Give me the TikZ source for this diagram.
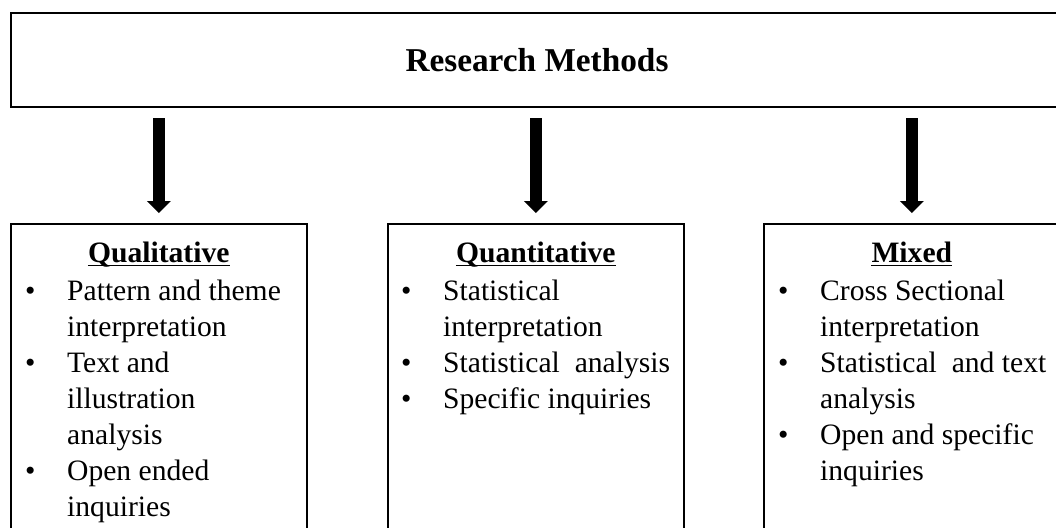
\documentclass[tikz,border=0pt]{standalone}
\usepackage{fontspec}
\setmainfont{Liberation Serif}
\usetikzlibrary{arrows.meta}
% bullet and continuation indent for the method lists
\newcommand{\bul}{\strut\makebox[42pt][l]{\textbullet}}
\newcommand{\cont}{\strut\hspace*{42pt}}
\begin{document}
\begin{tikzpicture}[x=1pt,y=-1pt,
  topbox/.style={draw, line width=2pt, inner sep=0pt, anchor=north west},
  catbox/.style={draw, line width=1.6pt, inner sep=0pt, anchor=north west,
                 minimum width=296pt, minimum height=330pt},
  heading/.style={anchor=base, inner sep=0pt, font=\fontsize{29.6}{36}\selectfont\bfseries},
  itemlist/.style={anchor=north west, inner sep=0pt, align=left,
                   font=\fontsize{29.6}{36}\selectfont},
  uline/.style={line width=1.5pt},
  bigarrow/.style={line width=12pt,
                   -{Triangle[length=12pt,width=24pt,line width=0pt]},
                   shorten <=10pt, shorten >=10pt}]
\clip (0,0) rectangle (1056,527);
\fill[white] (0,0) rectangle (1056,527);

% title box
\node[topbox, minimum width=1052pt, minimum height=94pt] (rm) at (10,12) {};
\node[anchor=base, inner sep=0pt, font=\fontsize{33.3}{40}\selectfont\bfseries]
  (title) at (rm.center |- 0,71) {Research Methods};

% the three method boxes
\node[catbox] (ql) at (10,223) {};
\node[catbox] (qn) at (387,223) {};
\node[catbox] (mx) at (763,223) {};

% arrows from the title box
\draw[bigarrow] (rm.south -| ql.north) -- (ql.north);
\draw[bigarrow] (rm.south -| qn.north) -- (qn.north);
\draw[bigarrow] (rm.south -| mx.north) -- (mx.north);

% headings
\node[heading] (qlh) at (ql.center |- 0,262) {Qualitative};
\node[heading] (qnh) at (qn.center |- 0,262) {Quantitative};
\node[heading] (mxh) at (mx.center |- 0,262) {Mixed};
\foreach \h in {qlh,qnh,mxh}
  \draw[uline] ([yshift=-3.5pt]\h.base west) -- ([yshift=-3.5pt]\h.base east);

% lists
\node[itemlist] (qll) at (25,274.8) {%
  \bul Pattern and theme\\
  \cont interpretation\\
  \bul Text and\\
  \cont illustration\\
  \cont analysis\\
  \bul Open ended\\
  \cont inquiries};
\node[itemlist] (qnl) at (401,274.8) {%
  \bul Statistical\\
  \cont interpretation\\
  \bul Statistical\ \ analysis\\
  \bul Specific inquiries};
\node[itemlist] (mxl) at (778,274.8) {%
  \bul Cross Sectional\\
  \cont interpretation\\
  \bul Statistical\ \ and text\\
  \cont analysis\\
  \bul Open and specific\\
  \cont inquiries};
\end{tikzpicture}
\end{document}
